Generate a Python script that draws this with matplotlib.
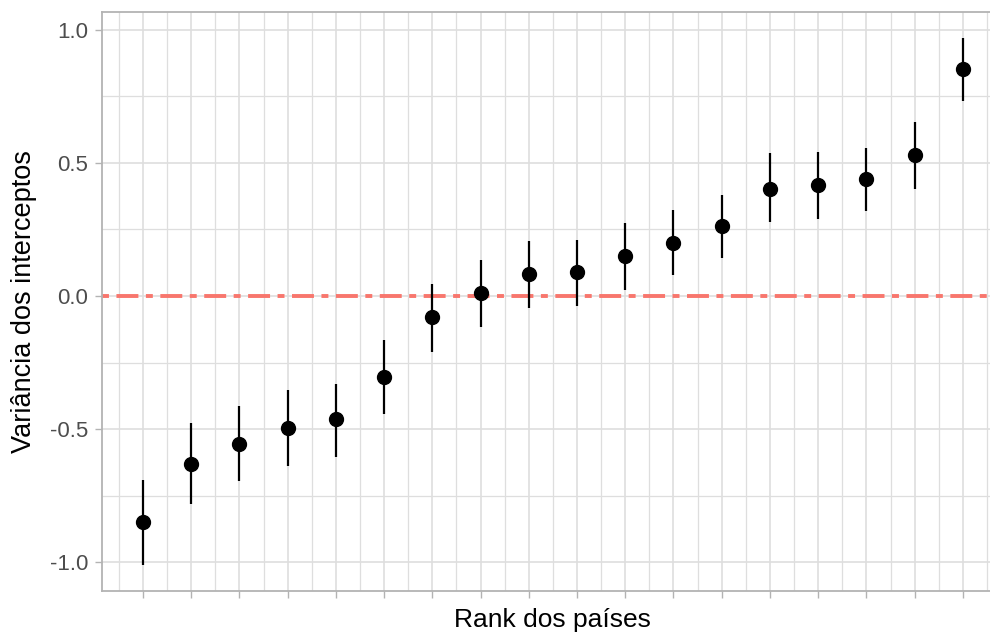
import numpy as np
import matplotlib.pyplot as plt

# estimativas dos interceptos por país (ordenadas)
rank = np.arange(1, 19)
estimate = [-0.848, -0.631, -0.555, -0.494, -0.463, -0.303, -0.079, 0.011, 0.083,
            0.090, 0.151, 0.199, 0.263, 0.403, 0.417, 0.438, 0.530, 0.851]
lower = [-1.008, -0.779, -0.695, -0.639, -0.604, -0.443, -0.211, -0.115, -0.044,
         -0.037, 0.024, 0.079, 0.144, 0.277, 0.290, 0.318, 0.402, 0.732]
upper = [-0.689, -0.478, -0.414, -0.353, -0.330, -0.165, 0.046, 0.136, 0.206,
         0.212, 0.275, 0.324, 0.380, 0.535, 0.541, 0.555, 0.654, 0.967]

plt.rcParams['font.family'] = ['Liberation Sans', 'DejaVu Sans']
plt.rcParams['lines.scale_dashes'] = False


def draw_caterpillar():
    fig = plt.figure(figsize=(9.9, 6.38), dpi=100)
    ax = fig.add_axes([0.103, 0.0737, 0.911, 0.9075])

    ax.set_xlim(0.15, 18.85)
    ax.set_ylim(-1.107, 1.066)

    # grade estilo theme_light
    ax.set_xticks(rank)
    ax.set_xticks(np.arange(0.5, 19, 1), minor=True)
    ax.set_yticks([-1.0, -0.5, 0.0, 0.5, 1.0])
    ax.set_yticks([-0.75, -0.25, 0.25, 0.75], minor=True)
    ax.set_xticklabels([])
    ax.set_yticklabels(['-1.0', '-0.5', '0.0', '0.5', '1.0'])
    ax.grid(which='major', color='#DEDEDE', linewidth=1.2)
    ax.grid(which='minor', color='#DEDEDE', linewidth=0.9)
    ax.set_axisbelow(True)
    ax.tick_params(which='minor', length=0)
    ax.tick_params(which='major', length=5, width=1, color='#B3B3B3',
                   labelsize=16, labelcolor='#4D4D4D', pad=5)
    for s in ax.spines.values():
        s.set_color('#B3B3B3')
        s.set_linewidth(1.3)

    ax.axhline(0, color='#F8766D', linewidth=2.8, dashes=(5, 5.4, 15.8, 5.4), zorder=2)

    ax.vlines(rank, lower, upper, color='black', linewidth=1.6, zorder=3)
    ax.plot(rank, estimate, 'o', color='black', markersize=10, zorder=4)

    ax.set_xlabel('Rank dos países', fontsize=19, labelpad=2)
    ax.set_ylabel('Variância dos interceptos', fontsize=19.5, labelpad=9)

    fig.savefig('out.png', dpi=100)


if __name__ == "__main__":
    draw_caterpillar()
